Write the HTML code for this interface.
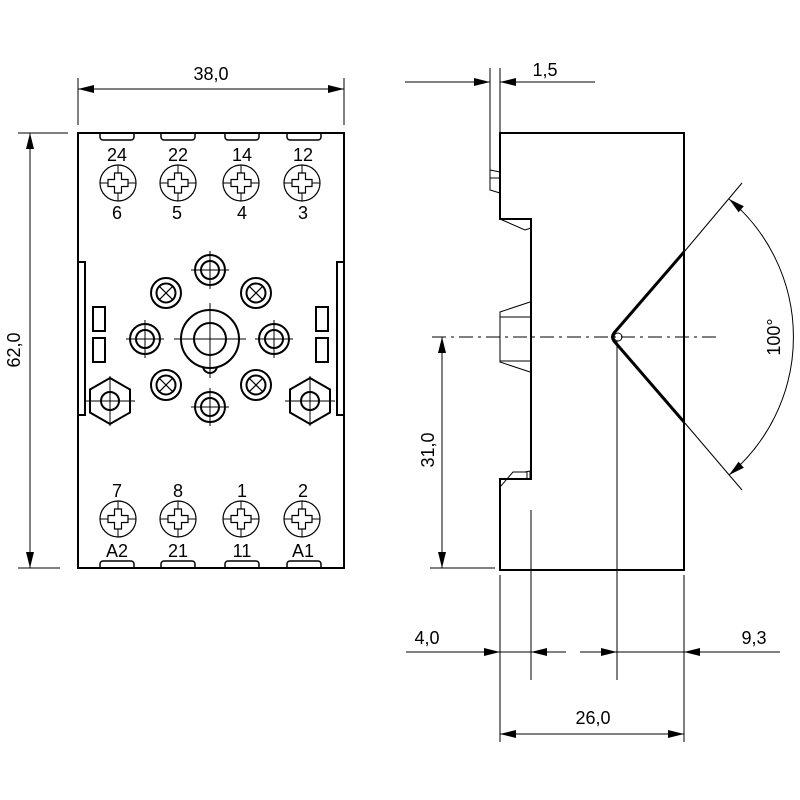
<!DOCTYPE html>
<html><head><style>body{margin:0;background:#fff}svg{display:block}text{font-family:"Liberation Sans",sans-serif;font-size:18px;fill:#000}</style></head><body>
<svg width="800" height="800" viewBox="0 0 800 800" xmlns="http://www.w3.org/2000/svg">
<defs>
<marker id="a" markerWidth="16" markerHeight="8" refX="16" refY="4" orient="auto" markerUnits="userSpaceOnUse"><path d="M0,0 L16,4 L0,8 Z" fill="#000"/></marker>
<marker id="b" markerWidth="16" markerHeight="8" refX="0" refY="4" orient="auto" markerUnits="userSpaceOnUse"><path d="M16,0 L0,4 L16,8 Z" fill="#000"/></marker>
<g id="scr"><circle r="18" fill="none" stroke="#000" stroke-width="1.2"/><path d="M-18,0H18M0,-18V18" stroke="#000" stroke-width="1"/><path d="M-3.5,-10H3.5V-3.5H10V3.5H3.5V10H-3.5V3.5H-10V-3.5H-3.5Z" fill="#fff" stroke="#000" stroke-width="1.2"/></g>
<g id="ring"><circle r="15" fill="none" stroke="#000" stroke-width="2"/><circle r="9" fill="none" stroke="#000" stroke-width="2"/><path d="M-19,0H19M0,-19V19" stroke="#000" stroke-width="1"/></g>
<g id="xr"><circle r="15" fill="none" stroke="#000" stroke-width="2"/><circle r="9.5" fill="none" stroke="#000" stroke-width="2"/><path d="M-6.7,-6.7L6.7,6.7M-6.7,6.7L6.7,-6.7" stroke="#000" stroke-width="1.2"/></g>
<g id="hex"><polygon points="0,-23 20,-11.5 20,11.5 0,23 -20,11.5 -20,-11.5" fill="none" stroke="#000" stroke-width="2"/><circle r="9" fill="none" stroke="#000" stroke-width="2"/><path d="M-25,0H25M0,-25V25" stroke="#000" stroke-width="1"/></g>
</defs>
<g stroke="#000" fill="none">
<rect x="78" y="133" width="266" height="435" stroke-width="2"/>
<g stroke-width="1.5">
<path d="M100,133v4a3,3 0 0 0 3,3h28a3,3 0 0 0 3,-3v-4M161,133v4a3,3 0 0 0 3,3h28a3,3 0 0 0 3,-3v-4M225,133v4a3,3 0 0 0 3,3h28a3,3 0 0 0 3,-3v-4M287,133v4a3,3 0 0 0 3,3h28a3,3 0 0 0 3,-3v-4"/>
<path d="M100,568v-4a3,3 0 0 1 3,-3h28a3,3 0 0 1 3,3v4M161,568v-4a3,3 0 0 1 3,-3h28a3,3 0 0 1 3,3v4M225,568v-4a3,3 0 0 1 3,-3h28a3,3 0 0 1 3,3v4M287,568v-4a3,3 0 0 1 3,-3h28a3,3 0 0 1 3,3v4"/>
</g>
<path d="M78,262H85V415H78M344,262H337V415H344" stroke-width="2"/>
<rect x="93" y="307" width="12" height="24" stroke-width="2"/><rect x="93" y="338" width="12" height="24" stroke-width="2"/>
<rect x="316" y="307" width="12" height="24" stroke-width="2"/><rect x="316" y="338" width="12" height="24" stroke-width="2"/>
<path d="M203,366a7,7 0 0 0 14,0" stroke-width="2"/>
<circle cx="210" cy="339" r="29" stroke-width="2" fill="#fff"/><circle cx="210" cy="339" r="16" stroke-width="2"/>
<path d="M174,339H246M210,303V378" stroke-width="1"/>
</g>
<use href="#scr" x="118" y="183"/><use href="#scr" x="178" y="183"/><use href="#scr" x="241" y="183"/><use href="#scr" x="302" y="183"/>
<use href="#scr" x="118" y="519"/><use href="#scr" x="178" y="519"/><use href="#scr" x="241" y="519"/><use href="#scr" x="302" y="519"/>
<use href="#ring" x="210" y="270"/><use href="#ring" x="210" y="407"/><use href="#ring" x="145" y="339"/><use href="#ring" x="274" y="339"/>
<use href="#xr" x="166" y="293"/><use href="#xr" x="256" y="293"/><use href="#xr" x="166" y="385"/><use href="#xr" x="256" y="385"/>
<use href="#hex" x="110" y="401"/><use href="#hex" x="310" y="401"/>
<g text-anchor="middle">
<text x="117" y="161">24</text><text x="178" y="161">22</text><text x="242" y="161">14</text><text x="303" y="161">12</text>
<text x="117" y="219">6</text><text x="177" y="219">5</text><text x="242" y="219">4</text><text x="303" y="219">3</text>
<text x="117" y="497">7</text><text x="178" y="497">8</text><text x="242" y="497">1</text><text x="303" y="497">2</text>
<text x="117" y="557">A2</text><text x="178" y="557">21</text><text x="242" y="557">11</text><text x="303" y="557">A1</text>
</g>
<g stroke="#000" stroke-width="1" fill="none">
<path d="M78,78V125M344,78V125M18,133H68M18,568H60"/>
<path d="M78,89H344" marker-start="url(#b)" marker-end="url(#a)"/>
<path d="M30,133V568" marker-start="url(#b)" marker-end="url(#a)"/>
</g>
<text x="211" y="80" text-anchor="middle">38,0</text>
<text transform="translate(20,350) rotate(-90)" text-anchor="middle">62,0</text>
<g stroke="#000" fill="none">
<path d="M500,133H684V570H500V479H531V219H500Z" stroke-width="2"/>
<g stroke-width="1">
<path d="M500,172L490,170V190L500,193M490,178H500"/>
<path d="M500,219L525,230L531,228"/>
<path d="M530,302L500,312V362L530,372M500,317H530M500,361H530"/>
<path d="M500,497V487L513,472H527V479M525,472L530,471V479"/>
</g>
<path d="M684,252L614,333Q611,337 614,341L684,422" stroke-width="3"/>
<circle cx="618" cy="337" r="4" stroke-width="1" fill="#fff"/>
<g stroke-width="1">
<path d="M432,337H720" stroke-dasharray="14,5,3,5"/>
<path d="M684,252L742,183M684,422L742,490"/>
<path d="M729,199A180,180 0 0 1 729,475" marker-start="url(#b)" marker-end="url(#a)"/>
<path d="M490,68V170M500,68V133"/>
<path d="M405,82H490" marker-end="url(#a)"/><path d="M595,82H500" marker-end="url(#a)"/>
<path d="M430,568H495"/>
<path d="M442,337V568" marker-start="url(#b)" marker-end="url(#a)"/>
<path d="M500,575V742M531,510V680M617,341V680M684,575V742"/>
<path d="M406,652H500" marker-end="url(#a)"/><path d="M500,652H531"/><path d="M566,652H531" marker-end="url(#a)"/>
<path d="M580,652H617" marker-end="url(#a)"/><path d="M617,652H684"/><path d="M780,652H684" marker-end="url(#a)"/>
<path d="M500,734H684" marker-start="url(#b)" marker-end="url(#a)"/>
</g>
</g>
<text x="545" y="76" text-anchor="middle">1,5</text>
<text transform="translate(434,450) rotate(-90)" text-anchor="middle">31,0</text>
<text transform="translate(780,337) rotate(-90)" text-anchor="middle">100°</text>
<text x="427" y="644" text-anchor="middle">4,0</text>
<text x="754" y="644" text-anchor="middle">9,3</text>
<text x="593" y="724" text-anchor="middle">26,0</text>
</svg>
</body></html>
